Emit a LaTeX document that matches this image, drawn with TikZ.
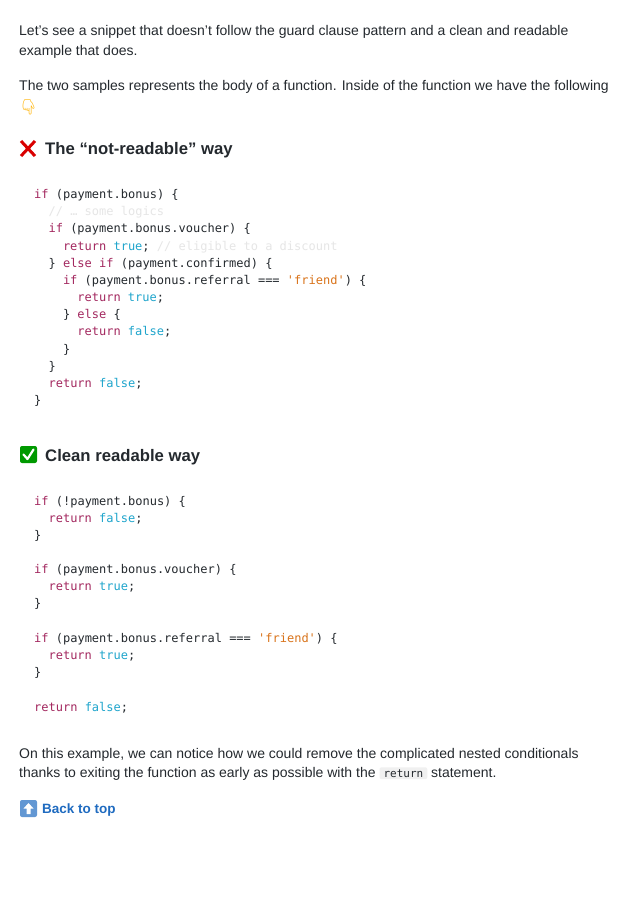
\documentclass[tikz,border=0pt]{standalone}
\usepackage{fontspec}
\setmainfont{Liberation Sans}
\setmonofont{DejaVu Sans Mono}
\newfontfamily\emojifont{Noto Emoji}
\definecolor{txt}{HTML}{24292E}
\definecolor{kwc}{HTML}{A3285F}
\definecolor{litc}{HTML}{1FA5CC}
\definecolor{strc}{HTML}{D9731A}
\definecolor{cmc}{HTML}{E6E6E6}
\definecolor{linkc}{HTML}{1F6BC0}
\newcommand\kw[1]{\textcolor{kwc}{#1}}
\newcommand\lt[1]{\textcolor{litc}{#1}}
\newcommand\st[1]{\textcolor{strc}{#1}}
\newcommand\cm[1]{\textcolor{cmc}{#1}}
\begin{document}
\begin{tikzpicture}[x=1pt,y=1pt,
  body/.style={anchor=base west,inner sep=0,font=\fontsize{14}{16}\selectfont,text=txt},
  head/.style={anchor=base west,inner sep=0,font=\fontsize{16.7}{19}\selectfont\bfseries,text=txt},
  code/.style={anchor=base west,inner sep=0,font=\fontsize{12}{14}\ttfamily,text=txt}]
\useasboundingbox[fill=white] (0,0) rectangle (638,-903);
\node[body] (p1) at (19,-35) {Let’s see a snippet that doesn’t follow the guard clause pattern and a clean and readable};
\node[body] (p2) at (19,-55) {example that does.};
\node[body] (p3) at (19,-90) {The two samples represents the body of a function. Inside of the function we have the following};
\node[anchor=base west,inner sep=0,font=\fontsize{15}{17}\emojifont,text=orange!60!yellow] (hand) at (19,-112) {👇};
% red X
\draw[red!85!black,line width=3pt] (21,-141)--(35,-156) (35,-141)--(21,-156);
\node[head] (h1) at (45,-154) {The “not-readable” way};
\def\L#1#2#3{\node[code] (#1) at (34+14.4*#2,-#3) }
\L{a1}{0}{198}{\kw{if} (payment.bonus) \{};
\L{a2}{1}{215}{\cm{// … some logics}};
\L{a3}{1}{232}{\kw{if} (payment.bonus.voucher) \{};
\L{a4}{2}{250}{\kw{return} \lt{true}; \cm{// eligible to a discount}};
\L{a5}{1}{267}{\} \kw{else} \kw{if} (payment.confirmed) \{};
\L{a6}{2}{284}{\kw{if} (payment.bonus.referral === \st{'friend'}) \{};
\L{a7}{3}{301}{\kw{return} \lt{true};};
\L{a8}{2}{318}{\} \kw{else} \{};
\L{a9}{3}{335}{\kw{return} \lt{false};};
\L{a10}{2}{353}{\}};
\L{a11}{1}{370}{\}};
\L{a12}{1}{387}{\kw{return} \lt{false};};
\L{a13}{0}{404}{\}};
% green check
\fill[green!60!black,rounded corners=2pt] (20,-446) rectangle (37,-463);
\draw[white,line width=2.2pt,line cap=round,line join=round] (23.5,-454.5)--(27.5,-459)--(33.5,-449.5);
\node[head] (h2) at (45,-461) {Clean readable way};
\L{b1}{0}{505}{\kw{if} (!payment.bonus) \{};
\L{b2}{1}{522}{\kw{return} \lt{false};};
\L{b3}{0}{539}{\}};
\L{b4}{0}{573}{\kw{if} (payment.bonus.voucher) \{};
\L{b5}{1}{590}{\kw{return} \lt{true};};
\L{b6}{0}{607}{\}};
\L{b7}{0}{642}{\kw{if} (payment.bonus.referral === \st{'friend'}) \{};
\L{b8}{1}{659}{\kw{return} \lt{true};};
\L{b9}{0}{676}{\}};
\L{b10}{0}{711}{\kw{return} \lt{false};};
\node[body] (p4) at (19,-758) {On this example, we can notice how we could remove the complicated nested conditionals};
\node[body] (p5) at (19,-777) {thanks to exiting the function as early as possible with the \tikz[baseline=(r.base)]\node[fill=black!6,inner xsep=4pt,inner ysep=2pt,rounded corners=2pt,font=\fontsize{11}{12}\ttfamily] (r) {return}; statement.};
% back to top icon
\fill[linkc!70!white,rounded corners=2pt] (20,-800) rectangle (37,-817);
\fill[white] (28.5,-803)--(33.5,-808.5)--(30.5,-808.5)--(30.5,-814)--(26.5,-814)--(26.5,-808.5)--(23.5,-808.5)--cycle;
\node[body,font=\fontsize{13.5}{16}\selectfont\bfseries,text=linkc] (top) at (42,-813.5) {Back to top};
\end{tikzpicture}
\end{document}
